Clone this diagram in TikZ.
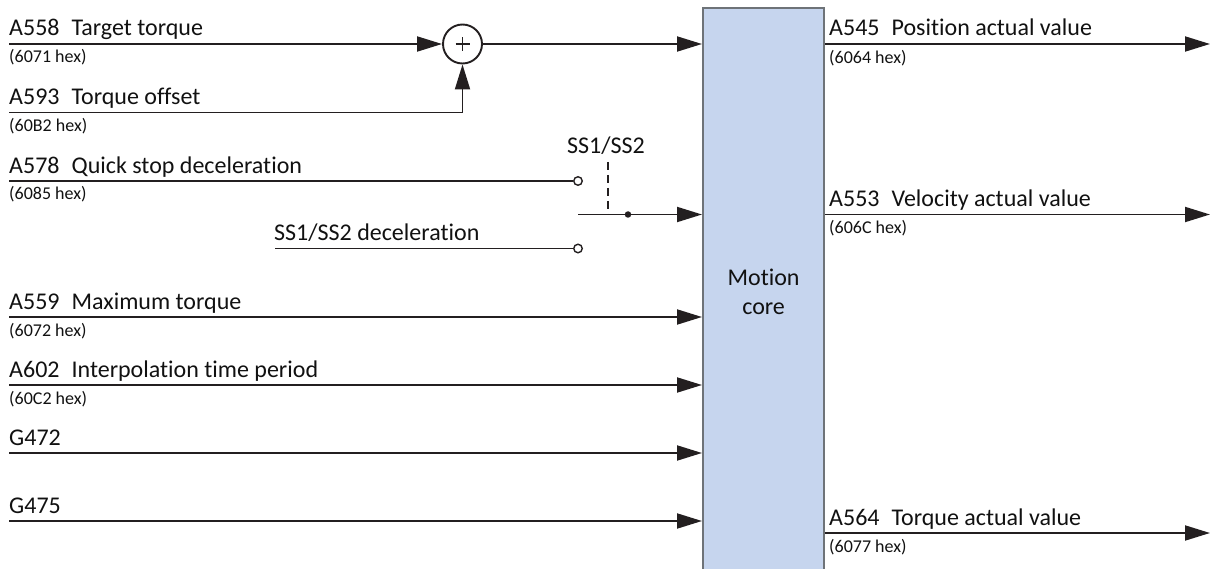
\documentclass[tikz,border=0pt]{standalone}
\usepackage{fontspec}
\setmainfont{Carlito}[Ligatures=NoCommon]
\newfontfamily\hexfont{Carlito}[Ligatures=NoCommon]
\usetikzlibrary{arrows.meta}
\definecolor{linec}{HTML}{231F20}
\definecolor{corefill}{HTML}{C6D5EE}
\definecolor{coredraw}{HTML}{6E7378}
\definecolor{txt}{HTML}{111111}
\begin{document}
\begin{tikzpicture}[x=1pt,y=-1pt,
  sig/.style={draw=linec, line width=1.9pt},
  arr/.style={sig, -{Triangle[length=25pt,width=15pt]}},
  lbl/.style={anchor=base west, inner sep=0pt, text=txt, font=\fontsize{24}{29}\selectfont},
  hexl/.style={anchor=base west, inner sep=0pt, text=txt, font=\hexfont\fontsize{18}{21}\selectfont},
  port/.style={circle, draw=linec, fill=white, line width=1.4pt, minimum size=8.5pt, inner sep=0pt},
  dotn/.style={circle, fill=linec, minimum size=6.5pt, inner sep=0pt},
  ctrl/.style={draw=linec, line width=1.5pt, dash pattern=on 8pt off 5pt},
]
\useasboundingbox (0,0) rectangle (1210,569);

% motion core block
\node[draw=coredraw, fill=corefill, line width=2.2pt, anchor=north west,
      minimum width=121pt, minimum height=568pt, inner sep=0pt,
      align=center, text=txt, font=\fontsize{24}{29}\selectfont] (core) at (702,7) {Motion\\core};

% summing junction
\node[circle, draw=linec, line width=1.9pt, minimum size=39pt, inner sep=0pt] (sum) at (462.5,44) {};
\draw[draw=linec, line width=1.3pt] ([xshift=-7pt]sum.center) -- ([xshift=7pt]sum.center);
\draw[draw=linec, line width=1.3pt] ([yshift=-7pt]sum.center) -- ([yshift=7pt]sum.center);

% input start points
\coordinate (in1) at (9,44);
\coordinate (in2) at (9,112.5);
\coordinate (in3) at (9,181);
\coordinate (in4) at (275,248.5);
\coordinate (in5) at (9,317);
\coordinate (in6) at (9,385);
\coordinate (in7) at (9,453);
\coordinate (in8) at (9,521);

% output end points
\coordinate (out1) at (1210,44);
\coordinate (out2) at (1210,214.5);
\coordinate (out3) at (1210,533);

% switch
\node[port] (p1) at (578,181) {};
\node[port] (p2) at (578,248.5) {};
\coordinate (sw) at (578,214.5);
\node[dotn] (pivot) at (628,214.5) {};
\coordinate (dtop) at (608,162);
\node[anchor=base, inner sep=0pt, text=txt, font=\fontsize{24}{29}\selectfont] (sslbl) at (606,154) {SS1/SS2};

% connectors
\draw[arr] (in1) -- (sum.west);
\draw[arr] (in2) -| (sum.south);
\draw[arr] (sum.east) -- (sum.east -| core.west);
\draw[sig] (in3) -- (p1.west);
\draw[sig] (in4) -- (p2.west);
\draw[arr] (sw) -- (sw -| core.west);
\draw[ctrl] (dtop) -- (dtop |- sw);
\draw[arr] (in5) -- (in5 -| core.west);
\draw[arr] (in6) -- (in6 -| core.west);
\draw[arr] (in7) -- (in7 -| core.west);
\draw[arr] (in8) -- (in8 -| core.west);
\draw[arr] (out1 -| core.east) -- (out1);
\draw[arr] (out2 -| core.east) -- (out2);
\draw[arr] (out3 -| core.east) -- (out3);

% input labels
\node[lbl] (t1) at (9,36) {A558\enspace Target torque};
\node[hexl] (h1) at (9,63) {(6071 hex)};
\node[lbl] (t2) at (9,104.5) {A593\enspace Torque offset};
\node[hexl] (h2) at (9,131.5) {(60B2 hex)};
\node[lbl] (t3) at (9,173.5) {A578\enspace Quick stop deceleration};
\node[hexl] (h3) at (9,200) {(6085 hex)};
\node[lbl] (t4) at (274,240.5) {SS1/SS2 deceleration};
\node[lbl] (t5) at (9,309) {A559\enspace Maximum torque};
\node[hexl] (h5) at (9,336) {(6072 hex)};
\node[lbl] (t6) at (9,377) {A602\enspace Interpolation time period};
\node[hexl] (h6) at (9,404) {(60C2 hex)};
\node[lbl] (t7) at (9,445) {G472};
\node[lbl] (t8) at (9,513) {G475};

% output labels
\node[lbl] (r1) at (829,36) {A545\enspace Position actual value};
\node[hexl] (rh1) at (829,63.5) {(6064 hex)};
\node[lbl] (r2) at (829,206.5) {A553\enspace Velocity actual value};
\node[hexl] (rh2) at (829,234) {(606C hex)};
\node[lbl] (r3) at (829,525) {A564\enspace Torque actual value};
\node[hexl] (rh3) at (829,552.5) {(6077 hex)};
\end{tikzpicture}
\end{document}
